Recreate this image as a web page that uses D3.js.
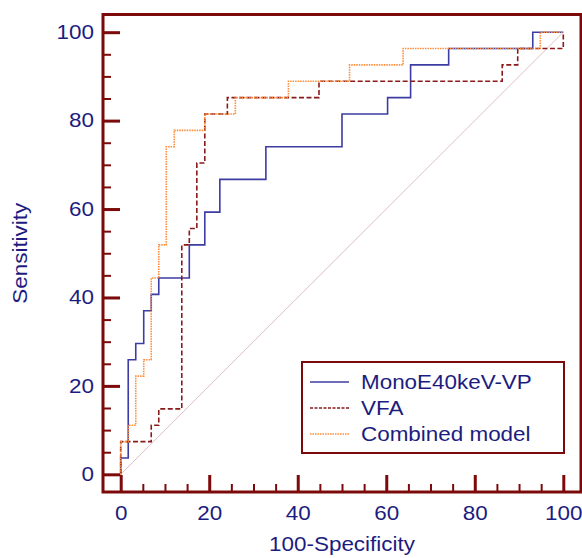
<!DOCTYPE html>
<html>
<head>
<meta charset="utf-8">
<script src="https://cdn.jsdelivr.net/npm/d3@7"></script>
<style>
  body { margin: 0; background: #fff; }
  text { font-family: "Liberation Sans", Arial, sans-serif; }
</style>
</head>
<body>
<svg id="chart" width="582" height="558"></svg>
<script>
// ROC points as (100-specificity, sensitivity); each step goes up first, then across
var monoFpr = [0, 1.7, 3.4, 5.2, 6.9, 8.6, 15.5, 19.0, 22.4, 32.8, 50.0, 60.3, 65.5, 74.1, 93.1, 100];
var monoTpr = [0, 3.7, 25.9, 29.6, 37.0, 40.7, 44.4, 51.9, 59.3, 66.7, 74.1, 81.5, 85.2, 92.6, 96.3, 100];

var vfaFpr = [0, 6.9, 8.6, 13.8, 15.5, 17.2, 19.0, 24.1, 44.8, 86.2, 89.7, 100, 100];
var vfaTpr = [0, 7.4, 11.1, 14.8, 51.9, 55.6, 70.4, 81.5, 85.2, 88.9, 92.6, 96.3, 100];

var combFpr = [0, 1.7, 3.4, 5.2, 6.9, 8.6, 10.3, 12.1, 19.0, 25.9, 37.9, 51.7, 63.8, 94.8, 100];
var combTpr = [0, 7.4, 11.1, 22.2, 25.9, 44.4, 51.9, 74.1, 77.8, 81.5, 85.2, 88.9, 92.6, 96.3, 100];

var seriesNames = ["MonoE40keV-VP", "VFA", "Combined model"];
var majorTicks = [0, 20, 40, 60, 80, 100];
var minorTicks = [5, 10, 15, 25, 30, 35, 45, 50, 55, 65, 70, 75, 85, 90, 95];

var FRAME = "#7d0a0a";
var INK = "#1c1c80";
var STRETCH = 1.15;

var svg = d3.select("#chart");

var x = d3.scaleLinear().domain([-4, 104]).range([103, 581]);
var y = d3.scaleLinear().domain([-4, 104]).range([492, 14.5]);

// the font in the original is a bit wider than Arial
function widen(sel) {
    sel.each(function() {
        var w = this.getComputedTextLength();
        d3.select(this)
            .attr("textLength", w * STRETCH)
            .attr("lengthAdjust", "spacingAndGlyphs");
    });
}

// chance line
svg.append("line")
    .attr("x1", x(0)).attr("y1", y(0))
    .attr("x2", x(100)).attr("y2", y(100))
    .attr("stroke", "#dcc0c8")
    .attr("stroke-width", 1);

var series = [
    {name: seriesNames[0], fpr: monoFpr, tpr: monoTpr, color: "#3c3ca2", dash: null, width: 1.6},
    {name: seriesNames[1], fpr: vfaFpr, tpr: vfaTpr, color: "#8a1a1a", dash: "5,2.5", width: 1.6},
    {name: seriesNames[2], fpr: combFpr, tpr: combTpr, color: "#ff8c3a", dash: "1.5,1", width: 1.6}
];

var line = d3.line()
    .x(function(d) { return x(d[0]); })
    .y(function(d) { return y(d[1]); })
    .curve(d3.curveStepBefore);

series.forEach(function(s) {
    var pts = d3.zip(s.fpr, s.tpr);
    svg.append("path")
        .datum(pts)
        .attr("d", line)
        .attr("fill", "none")
        .attr("stroke", s.color)
        .attr("stroke-width", s.width)
        .attr("stroke-dasharray", s.dash);
});

// axes, ticks point inwards
var xMinor = svg.append("g")
    .attr("transform", "translate(0," + y(-4) + ")")
    .call(d3.axisBottom(x).tickValues(minorTicks).tickSizeInner(-8).tickSizeOuter(0).tickFormat(""));
var yMinor = svg.append("g")
    .attr("transform", "translate(" + x(-4) + ",0)")
    .call(d3.axisLeft(y).tickValues(minorTicks).tickSizeInner(-8).tickSizeOuter(0).tickFormat(""));

var xMajor = svg.append("g")
    .attr("transform", "translate(0," + y(-4) + ")")
    .call(d3.axisBottom(x).tickValues(majorTicks).tickSizeInner(-17).tickSizeOuter(0).tickPadding(14.5));
var yMajor = svg.append("g")
    .attr("transform", "translate(" + x(-4) + ",0)")
    .call(d3.axisLeft(y).tickValues(majorTicks).tickSizeInner(-17).tickSizeOuter(0).tickPadding(9));

[xMinor, yMinor].forEach(function(g) {
    g.select(".domain").remove();
    g.selectAll(".tick line").attr("stroke", FRAME).attr("stroke-width", 2);
});
[xMajor, yMajor].forEach(function(g) {
    g.select(".domain").remove();
    g.selectAll(".tick line").attr("stroke", FRAME).attr("stroke-width", 3);
    g.selectAll(".tick text")
        .attr("fill", INK)
        .style("font-size", "19.5px")
        .call(widen);
});

// frame
svg.append("rect")
    .attr("x", x(-4)).attr("y", y(104))
    .attr("width", x(104) - x(-4))
    .attr("height", y(-4) - y(104))
    .attr("fill", "none")
    .attr("stroke", FRAME)
    .attr("stroke-width", 3);

// axis titles
svg.append("text")
    .attr("x", x(50)).attr("y", 551)
    .attr("text-anchor", "middle")
    .attr("fill", INK)
    .style("font-size", "19.5px")
    .text("100-Specificity")
    .call(widen);

svg.append("text")
    .attr("transform", "translate(26.5," + y(50) + ") rotate(-90)")
    .attr("text-anchor", "middle")
    .attr("fill", INK)
    .style("font-size", "19.5px")
    .text("Sensitivity")
    .call(widen);

// legend
var legend = svg.append("g").attr("transform", "translate(302,362)");

legend.append("rect")
    .attr("width", 262).attr("height", 91)
    .attr("fill", "#fff")
    .attr("stroke", FRAME)
    .attr("stroke-width", 2);

var rows = legend.selectAll("g.row")
    .data(series)
    .enter().append("g")
    .attr("class", "row")
    .attr("transform", function(d, i) { return "translate(0," + (20 + i * 26) + ")"; });

rows.append("line")
    .attr("x1", 8).attr("x2", 47)
    .attr("stroke", function(d) { return d.color; })
    .attr("stroke-width", 1.3)
    .attr("stroke-dasharray", function(d) { return d.dash === "5,2.5" ? "3,1.5" : d.dash; });

rows.append("text")
    .attr("x", 59).attr("y", 6.5)
    .attr("fill", INK)
    .style("font-size", "19.5px")
    .text(function(d) { return d.name; })
    .call(widen);
</script>
</body>
</html>
